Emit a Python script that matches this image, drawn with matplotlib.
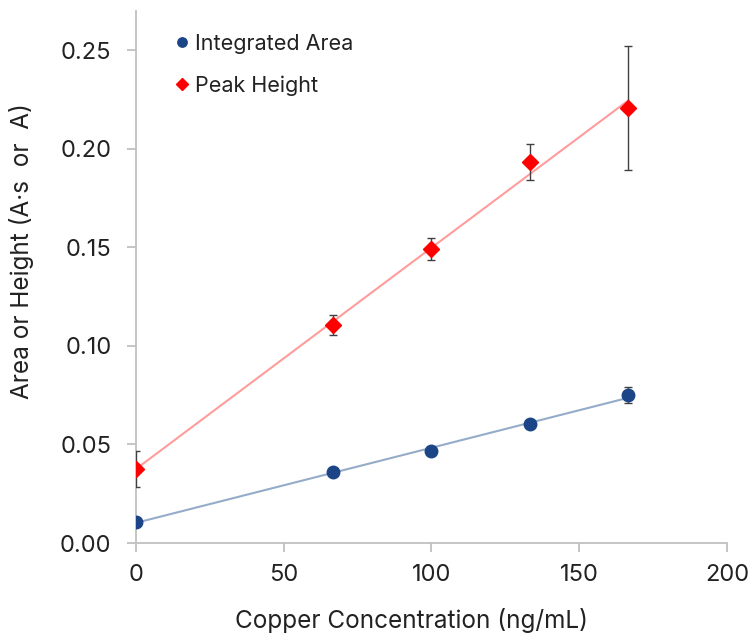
import numpy as np
import matplotlib
matplotlib.use("Agg")
import matplotlib.pyplot as plt

plt.rcParams['font.family'] = ['Inter', 'DejaVu Sans']

# Copper standards (ng/mL)
concentration = [0.0, 66.7, 100.0, 133.3, 166.7]

# Integrated peak area (A·s) with standard deviations
area = [0.0106, 0.0362, 0.0468, 0.0602, 0.0750]
area_err = [0.0008, 0.0010, 0.0010, 0.0010, 0.0040]

# Peak height (A) with standard deviations
height = [0.0375, 0.1105, 0.1492, 0.1934, 0.2206]
height_err = [0.0090, 0.0050, 0.0055, 0.0090, 0.0316]

x_ticks = [0, 50, 100, 150, 200]
y_ticks = [0.00, 0.05, 0.10, 0.15, 0.20, 0.25]

fig = plt.figure(figsize=(7.54, 6.34), dpi=100)
ax = fig.add_axes([0.180, 0.1435, 0.784, 0.8395])

x = np.array(concentration)
xfit = np.array([x.min(), x.max()])

# Linear calibration fits
pa = np.polyfit(x, area, 1)
ph = np.polyfit(x, height, 1)
ax.plot(xfit, np.polyval(ph, xfit), color='#ff9c9c', lw=1.5, zorder=2)
ax.plot(xfit, np.polyval(pa, xfit), color='#95acc9', lw=1.5, zorder=2)

ax.errorbar(x, area, yerr=area_err, fmt='none', ecolor='#404040',
            elinewidth=1.0, capsize=3, capthick=1.0, zorder=3)
ax.errorbar(x, height, yerr=height_err, fmt='none', ecolor='#404040',
            elinewidth=1.0, capsize=3, capthick=1.0, zorder=3)

ax.plot(x, area, 'o', color='#1c4587', ms=9, ls='none',
        label='Integrated Area', zorder=4)
ax.plot(x, height, 'D', color='#ff0000', ms=8.5, ls='none',
        label='Peak Height', zorder=4)

ax.set_xlim(0, 200)
ax.set_ylim(0, 0.27)
ax.set_xticks(x_ticks)
ax.set_yticks(y_ticks)
ax.set_yticklabels([f'{v:.2f}' for v in y_ticks])

for side in ('top', 'right'):
    ax.spines[side].set_visible(False)
for side in ('left', 'bottom'):
    ax.spines[side].set_color('#c0c0c0')
    ax.spines[side].set_linewidth(1.3)
ax.tick_params(axis='both', direction='out', length=6.5, width=1.3,
               color='#c0c0c0', labelsize=17, labelcolor='#222222')
ax.tick_params(axis='y', pad=11)
ax.tick_params(axis='x', pad=8.5)

ax.set_xlabel('Copper Concentration (ng/mL)', fontsize=17.5,
              color='#222222')
ax.set_ylabel('Area or Height (A·s  or  A)', fontsize=17.5,
              color='#222222')
ax.xaxis.set_label_coords(0.467, -0.122)
ax.yaxis.set_label_coords(-0.172, 0.548)

leg = ax.legend(loc='upper left', bbox_to_anchor=(0.035, 0.993), frameon=False,
                fontsize=15.5, handlelength=0.6, handletextpad=0.3,
                labelspacing=1.0, markerscale=0.75)
for t in leg.get_texts():
    t.set_color('#222222')

fig.savefig('out.png', dpi=100)
